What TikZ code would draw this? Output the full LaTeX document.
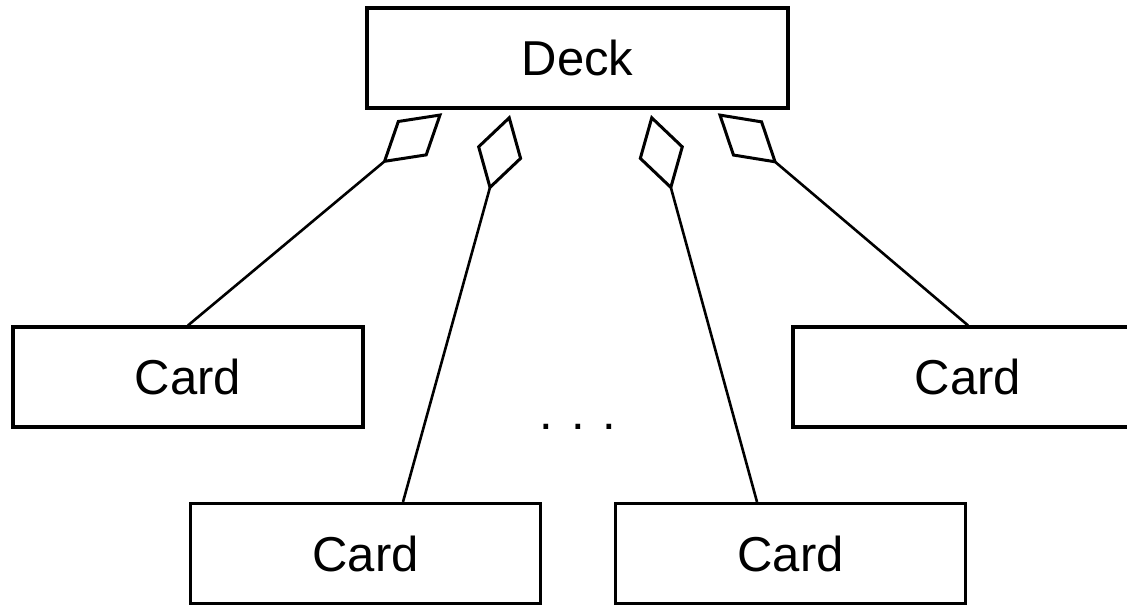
\documentclass[tikz,border=0pt]{standalone}
\usepackage{fontspec}
\setmainfont{Liberation Sans}
\usetikzlibrary{arrows.meta}
\begin{document}
\begin{tikzpicture}[x=0.5pt,y=-0.5pt,
		classbox/.style={draw, line width=1.6pt, minimum width=175pt, minimum height=50pt, inner sep=0pt, font=\fontsize{24.5}{29}\selectfont},
		aggr/.style={line width=1.3pt, -{Diamond[open, length=39pt, width=23.5pt, line width=1.5pt]}, shorten >=2.8pt}]
		\useasboundingbox (0,0) rectangle (1127,605);
		\node[classbox, minimum width=210.5pt] (deck) at (577.5,58) {Deck};
		\node[classbox] (cardA) at (188,377) {Card};
		\node[classbox] (cardB) at (968,377) {Card};
		\node[classbox] (cardC) at (365.5,553.5) {Card};
		\node[classbox] (cardD) at (790.5,553.5) {Card};
		\node[inner sep=0pt, font=\fontsize{24.5}{29}\selectfont] (dots) at (578,427) {. . .};
		\path (deck.south) ++(-131,0) coordinate (dA);
		\path (deck.south) ++(-66,0) coordinate (dC);
		\path (deck.south) ++(72,0) coordinate (dD);
		\path (deck.south) ++(136,0) coordinate (dB);
		\path (cardC.north) ++(37.5,0) coordinate (tC);
		\path (cardD.north) ++(-33.5,0) coordinate (tD);
		\draw[aggr] (cardA.north) -- (dA);
		\draw[aggr] (tC) -- (dC);
		\draw[aggr] (tD) -- (dD);
		\draw[aggr] (cardB.north) -- (dB);
	\end{tikzpicture}
\end{document}
